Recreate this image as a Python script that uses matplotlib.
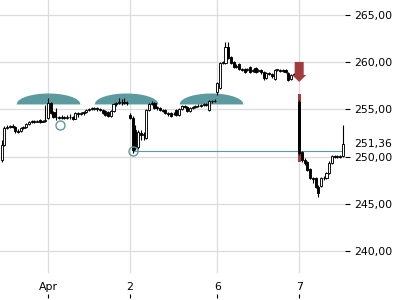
import matplotlib
matplotlib.use('Agg')
import matplotlib.pyplot as plt
import matplotlib.transforms as mtransforms
from matplotlib.patches import Polygon
import numpy as np

# ---------------- data ----------------
opens = [249.64, 251.23, 253.03, 253.14, 253.25, 253.14, 252.72, 252.72, 253.03, 253.14,
         253.46, 253.67, 253.78, 253.72, 253.88, 253.67, 253.78,
         254.09, 255.68, 254.73, 254.20, 254.20, 254.09, 254.20, 254.09, 254.20,
         254.20, 253.99, 254.62, 254.52, 254.62, 254.73, 254.94, 255.05, 255.05, 255.15,
         255.05, 254.94, 254.83, 254.73, 254.31, 254.83, 255.58, 255.68, 255.79, 255.79,
         255.68,
         254.41, 254.09, 252.82, 251.02, 252.50, 252.29, 251.97, 254.94, 255.58, 255.68,
         255.26, 255.15, 254.94, 254.94, 254.62, 254.62, 254.52, 254.94, 254.41, 255.05,
         255.36, 255.26, 254.83, 255.15, 255.26, 255.36, 255.36, 255.47, 255.58, 254.94,
         255.89, 255.89,
         256.85, 257.27, 259.92, 259.92, 261.61, 260.55, 260.03, 259.50, 259.81, 259.28,
         259.28, 259.18, 259.50, 259.07, 259.39, 259.07, 259.18, 258.97, 258.33, 258.86,
         258.75, 258.22, 259.18, 259.18, 259.07, 259.18, 258.86, 258.22, 258.65, 258.75,
         255.79, 250.49, 249.64, 249.43, 248.69, 247.74, 247.74, 246.78, 246.89, 247.74,
         247.74, 248.27, 249.33, 250.07, 249.96, 250.07, 250.07]
highs = [251.76, 253.25, 253.35, 253.35, 253.46, 253.25, 252.93, 253.14, 253.25, 253.56,
         253.78, 253.88, 253.88, 253.88, 253.99, 253.88, 255.47,
         256.21, 255.79, 254.83, 255.15, 254.31, 254.41, 254.31, 254.41, 254.52,
         254.31, 254.73, 254.73, 254.73, 254.83, 255.05, 255.15, 255.26, 255.26, 255.26,
         255.15, 255.05, 254.94, 254.83, 254.94, 255.68, 255.79, 256.21, 256.11, 256.21,
         255.89,
         254.62, 254.31, 253.35, 252.82, 252.82, 252.61, 255.05, 255.68, 255.89, 255.79,
         255.36, 255.26, 255.05, 255.05, 254.73, 254.73, 254.73, 255.05, 255.15, 255.47,
         255.47, 255.36, 255.26, 255.36, 255.47, 255.58, 255.58, 255.68, 255.68, 256.00,
         256.00, 256.11,
         257.91, 260.03, 260.13, 262.14, 262.14, 260.66, 260.13, 259.81, 259.92, 259.39,
         259.39, 259.39, 259.60, 259.28, 259.50, 259.28, 259.28, 259.07, 258.97, 258.97,
         258.86, 259.28, 259.28, 259.28, 259.28, 259.28, 258.97, 258.75, 258.86, 258.97,
         256.00, 250.59, 249.86, 249.54, 248.80, 247.84, 247.84, 246.99, 247.84, 247.95,
         248.37, 249.54, 250.17, 250.17, 250.17, 250.17, 253.35]
lows = [249.43, 251.13, 252.93, 253.03, 253.03, 252.50, 252.50, 252.61, 252.93, 253.03,
        253.35, 253.56, 253.56, 253.67, 253.56, 253.67, 253.67,
        253.99, 254.52, 254.09, 253.88, 253.99, 253.99, 253.99, 253.99, 253.99,
        253.88, 253.99, 254.20, 254.41, 254.41, 254.62, 254.83, 254.94, 254.94, 254.83,
        254.83, 254.52, 254.31, 254.20, 254.20, 254.73, 255.36, 255.58, 255.47, 255.58,
        255.47,
        253.99, 250.38, 250.70, 250.81, 251.76, 251.76, 251.87, 254.83, 255.47, 255.05,
        254.94, 254.83, 254.73, 254.52, 254.31, 254.20, 254.41, 254.31, 254.31, 254.94,
        255.15, 254.73, 254.73, 255.05, 255.15, 255.26, 255.26, 255.36, 255.36, 254.83,
        255.68, 255.79,
        256.53, 257.17, 259.81, 259.81, 260.34, 259.81, 259.39, 259.39, 259.18, 259.07,
        258.86, 259.07, 258.86, 258.97, 258.86, 258.97, 258.75, 258.12, 258.22, 258.65,
        258.33, 258.12, 259.07, 258.97, 258.97, 258.86, 258.01, 258.12, 258.54, 258.65,
        250.17, 249.43, 249.11, 248.48, 247.63, 247.21, 246.68, 245.72, 246.78, 247.53,
        247.63, 248.16, 249.22, 249.86, 249.86, 249.86, 249.96]
closes = [251.23, 253.03, 253.14, 253.25, 253.14, 252.72, 252.61, 253.03, 253.14, 253.46,
          253.67, 253.78, 253.72, 253.78, 253.67, 253.78, 253.78,
          255.68, 254.62, 254.20, 254.25, 254.09, 254.20, 254.09, 254.20, 254.15,
          253.99, 254.62, 254.52, 254.62, 254.73, 254.94, 255.05, 255.08, 255.15, 255.05,
          254.94, 254.62, 254.41, 254.31, 254.83, 255.58, 255.68, 255.79, 255.76, 255.68,
          255.65,
          254.09, 250.70, 250.92, 252.61, 252.29, 252.40, 254.94, 255.58, 255.68, 255.15,
          255.15, 254.94, 254.83, 254.62, 254.52, 254.31, 254.50, 254.41, 255.05, 255.36,
          255.26, 254.83, 255.15, 255.26, 255.36, 255.38, 255.47, 255.58, 255.47, 255.89,
          255.92, 255.92,
          257.80, 259.92, 260.03, 261.61, 260.45, 259.92, 259.50, 259.60, 259.28, 259.18,
          258.97, 259.28, 258.97, 259.18, 258.97, 259.18, 258.97, 258.33, 258.86, 258.75,
          258.54, 259.18, 259.20, 259.07, 259.18, 258.97, 258.12, 258.65, 258.75, 258.86,
          250.38, 249.64, 249.33, 248.58, 247.74, 247.63, 246.78, 246.14, 247.74, 247.70,
          248.27, 249.33, 250.07, 249.96, 250.07, 249.96, 251.36]

day_starts = [17, 47, 79, 109]
day_labels = ['Apr', '2', '6', '7']
y_ticks = [240, 245, 250, 255, 260, 265]
last_price = 251.36
ref_level = 250.59
ref_start = 48
dome_centers = [17.0, 45.6, 76.7]
dome_base, dome_top = 255.58, 256.74
marker_x = [21.4, 48.1]
marker_y = [253.35, 250.59]
gap_idx = 109
gap_low, gap_high = 249.43, 256.63
arrow_top, arrow_neck, arrow_tip = 260.03, 258.65, 257.91

TEAL = '#5b9ba0'
RED = '#a23c3c'
GRID = '#dcdcdc'

# ---------------- figure ----------------
fig = plt.figure(figsize=(4, 3), dpi=100)
ax = fig.add_axes([0.0, 0.0067, 0.8625, 0.9933])
n = len(closes)
xs = np.arange(n)
ax.set_xlim(-0.59, 125.78)
ax.set_ylim(235.03, 266.59)

for s in ax.spines.values():
    s.set_visible(False)

# grid
for yv in y_ticks:
    ax.axhline(yv, color=GRID, lw=0.9, zorder=0)
for xv in day_starts:
    ax.axvline(xv, ymin=0.087, ymax=1, color=GRID, lw=0.9, zorder=0)

# domes (event markers)
half_w = 11.7
t = np.linspace(-1, 1, 80)
for c in dome_centers:
    ax.fill_between(c + half_w * t, dome_base,
                    dome_base + (dome_top - dome_base) * np.sqrt(1 - t ** 2),
                    color=TEAL, lw=0, zorder=1)

# reference line
ax.plot([ref_start, 125.78], [ref_level, ref_level], color=TEAL, lw=0.8, zorder=2)

# gap highlight
ax.bar(gap_idx, gap_high - gap_low, bottom=gap_low, width=1.2, color=RED, lw=0, zorder=2.5)

# candles
o = np.array(opens); c = np.array(closes); h = np.array(highs); l = np.array(lows)
ax.vlines(xs, l, h, color='black', lw=0.8, zorder=3)
up = c >= o
bottoms = np.minimum(o, c)
heights = np.maximum(np.abs(c - o), 0.05)
ax.bar(xs[up], heights[up], bottom=bottoms[up], width=0.78, color='white',
       edgecolor='black', linewidth=0.65, zorder=3.5)
ax.bar(xs[~up], heights[~up], bottom=bottoms[~up], width=0.78, color='black',
       edgecolor='black', linewidth=0.65, zorder=3.5)

# circle markers
ax.plot(marker_x, marker_y, 'o', ms=6.5, mfc='none', mec=TEAL, mew=1.0, zorder=4)

# arrow
sw, hw = 1.65, 2.6
ax.add_patch(Polygon([(gap_idx - sw, arrow_top), (gap_idx + sw, arrow_top),
                      (gap_idx + sw, arrow_neck), (gap_idx + hw, arrow_neck),
                      (gap_idx, arrow_tip), (gap_idx - hw, arrow_neck),
                      (gap_idx - sw, arrow_neck)], closed=True,
                     facecolor=RED, edgecolor='none', zorder=4))

# axes ticks
ax.yaxis.tick_right()
ax.set_yticks(y_ticks)
ax.set_yticklabels([f"{v:.2f}".replace('.', ',') for v in y_ticks])
ax.tick_params(axis='y', length=3.6, width=0.8, pad=3, labelsize=7.8, colors='black')
ax.set_xticks(day_starts)
ax.set_xticklabels(day_labels)
ax.tick_params(axis='x', direction='in', length=3, width=0.8, pad=-11.5, labelsize=7.8)

trans = mtransforms.blended_transform_factory(ax.transAxes, ax.transData)
ax.text(1.0 + 9.5 / 345, last_price, f"{last_price:.2f}".replace('.', ','),
        transform=trans, ha='left', va='center', fontsize=7.8)

fig.savefig('out.png', dpi=100)
